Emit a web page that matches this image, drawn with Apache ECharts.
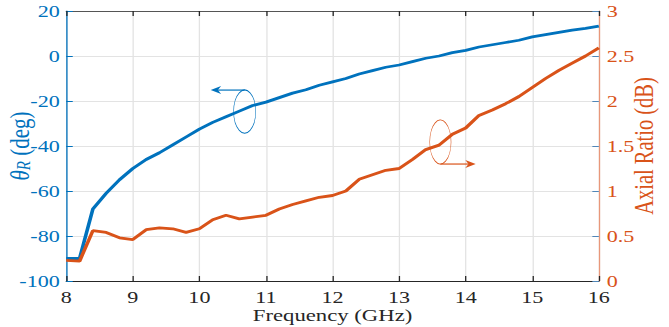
<!DOCTYPE html>
<html>
<head>
<meta charset="utf-8">
<script src="https://cdn.jsdelivr.net/npm/echarts@6/dist/echarts.min.js"></script>
<style>
html,body{margin:0;padding:0;background:#fff;overflow:hidden;width:669px;height:327px;}
#c{width:515px;height:327px;transform:scaleX(1.299);transform-origin:0 0;}
</style>
</head>
<body>
<div id="c"></div>
<script>
const freq = [8,8.2,8.4,8.6,8.8,9,9.2,9.4,9.6,9.8,10,10.2,10.4,10.6,10.8,11,11.2,11.4,11.6,11.8,12,12.2,12.4,12.6,12.8,13,13.2,13.4,13.6,13.8,14,14.2,14.4,14.6,14.8,15,15.2,15.4,15.6,15.8,16];
const thetaR = [-90,-90,-68,-61,-55,-50,-46,-43,-39.5,-36,-32.5,-29.5,-27,-24.5,-22,-20.5,-18.5,-16.5,-15,-13,-11.5,-10,-8,-6.5,-5,-4,-2.5,-1,0,1.5,2.5,4,5,6,7,8.5,9.5,10.5,11.5,12.3,13.3];
const axialRatio = [0.23,0.22,0.56,0.54,0.48,0.46,0.57,0.59,0.58,0.54,0.58,0.68,0.73,0.69,0.71,0.73,0.80,0.85,0.89,0.93,0.95,1.0,1.13,1.18,1.23,1.25,1.35,1.46,1.51,1.63,1.70,1.84,1.90,1.97,2.05,2.15,2.25,2.34,2.42,2.50,2.59];

const BLUE = '#0072BD', ORANGE = '#D95319', DARK = '#262626', GRID = '#e3e3e3';
const FONT = 'Liberation Serif';

const chart = echarts.init(document.getElementById('c'), null, {renderer: 'svg'});
const axisTxt = {fontFamily: FONT, fontSize: 17};

chart.setOption({
  animation: false,
  grid: {left: 51, right: 54, top: 11, bottom: 46, containLabel: false, outerBoundsMode: 'none'},
  xAxis: [{
    type: 'value', min: 8, max: 16, interval: 1, position: 'bottom',
    name: 'Frequency (GHz)', nameLocation: 'middle', nameGap: 25, nameMoveOverlap: false,
    nameTextStyle: {color: DARK, fontFamily: FONT, fontSize: 17.5},
    axisLine: {onZero: false, lineStyle: {color: DARK, width: 1}},
    axisTick: {inside: true, length: 5, lineStyle: {color: DARK}},
    axisLabel: Object.assign({color: DARK, margin: 7}, axisTxt),
    splitLine: {show: true, lineStyle: {color: GRID, width: 1}}
  }, {
    type: 'value', min: 8, max: 16, interval: 1, position: 'top',
    axisLine: {show: true, onZero: false, lineStyle: {color: '#555', width: 1}},
    axisTick: {inside: true, length: 5, lineStyle: {color: DARK}},
    axisLabel: {show: false}, splitLine: {show: false}
  }],
  yAxis: [{
    type: 'value', min: -100, max: 20, interval: 20, position: 'left',
    name: '{i|θ}{s|R}{n| (deg)}', nameLocation: 'middle', nameGap: 25, nameRotate: 90, nameMoveOverlap: false,
    nameTextStyle: {color: BLUE, fontFamily: FONT, fontSize: 21,
      rich: {
        i: {fontFamily: FONT, fontSize: 21, fontStyle: 'italic', color: BLUE},
        s: {fontFamily: FONT, fontSize: 15, fontStyle: 'italic', color: BLUE, verticalAlign: 'bottom', padding: [7,0,0,0]},
        n: {fontFamily: FONT, fontSize: 21, color: BLUE}
      }},
    axisLine: {show: true, onZero: false, lineStyle: {color: BLUE, width: 1}},
    axisTick: {inside: true, length: 5, lineStyle: {color: BLUE}},
    axisLabel: Object.assign({color: BLUE, margin: 5}, axisTxt),
    splitLine: {show: true, lineStyle: {color: GRID, width: 1}}
  }, {
    type: 'value', min: 0, max: 3, interval: 0.5, position: 'right',
    name: 'Axial Ratio (dB)', nameLocation: 'middle', nameGap: 24.5, nameRotate: 90, nameMoveOverlap: false,
    nameTextStyle: {color: ORANGE, fontFamily: FONT, fontSize: 20.5},
    axisLine: {show: true, onZero: false, lineStyle: {color: '#e8977a', width: 1}},
    axisTick: {inside: true, length: 5, lineStyle: {color: '#4f86b8'}},
    axisLabel: Object.assign({color: ORANGE, margin: 6}, axisTxt),
    splitLine: {show: false}
  }],
  series: [{
    type: 'line', xAxisIndex: 0, yAxisIndex: 0, showSymbol: false,
    data: freq.map((f, i) => [f, thetaR[i]]),
    lineStyle: {color: BLUE, width: 2.8}, itemStyle: {color: BLUE}, z: 3
  }, {
    type: 'line', xAxisIndex: 0, yAxisIndex: 1, showSymbol: false,
    data: freq.map((f, i) => [f, axialRatio[i]]),
    lineStyle: {color: ORANGE, width: 2.8}, itemStyle: {color: ORANGE}, z: 3
  }]
});

// annotations (anchored in data coordinates)
function px(x, y, axis) { return chart.convertToPixel({xAxisIndex: 0, yAxisIndex: axis}, [x, y]); }
function annot(center, rx, ry, fromTop, tipX, color) {
  const c = center;
  const y0 = fromTop ? c[1] - ry : c[1] + ry;
  const dir = tipX < c[0] ? -1 : 1;
  const L = 8, W = 4;
  return [
    {type: 'circle', x: c[0], y: c[1], scaleX: rx / ry, shape: {cx: 0, cy: 0, r: ry},
     style: {fill: 'none', stroke: color, lineWidth: 1.1}, z: 10},
    {type: 'line', shape: {x1: c[0], y1: y0, x2: tipX - dir * 3, y2: y0},
     style: {stroke: color, lineWidth: 1.2}, z: 10},
    {type: 'polygon', shape: {points: [[tipX, y0], [tipX - dir * L, y0 - W], [tipX - dir * (L - 2.5), y0], [tipX - dir * L, y0 + W]]},
     style: {fill: color}, z: 10}
  ];
}
const bc = px(10.68, -24.7, 0);
const bTip = px(10.17, 0, 0)[0];
const oc = px(13.62, 1.544, 1);
const oTip = px(14.15, 0, 1)[0];
chart.setOption({graphic: annot(bc, 8.5, 21.5, true, bTip, BLUE).concat(annot(oc, 8.2, 22, false, oTip, ORANGE))});
</script>
</body>
</html>
